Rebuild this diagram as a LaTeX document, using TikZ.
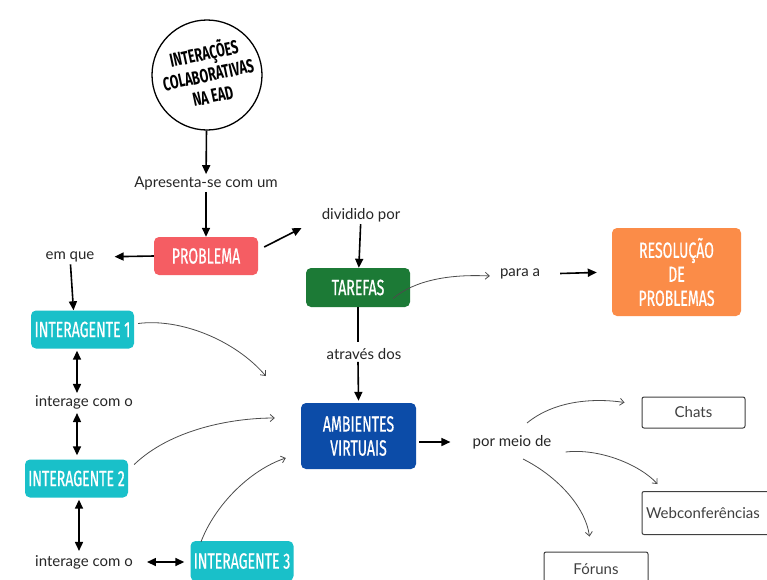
\documentclass[tikz,border=0pt]{standalone}
\usepackage{fontspec}
\setmainfont{Lato}
\newfontfamily\tfont[FakeStretch=0.64,FakeBold=0.6]{Fira Sans}
\newfontfamily\cfont[FakeStretch=0.66]{Fira Sans}
\usetikzlibrary{arrows.meta,calc}
\definecolor{cred}{HTML}{F55D63}
\definecolor{cgreen}{HTML}{1C7A36}
\definecolor{corange}{HTML}{FB8C48}
\definecolor{cteal}{HTML}{19C0C9}
\definecolor{cblue}{HTML}{0C4CA8}
\begin{document}
\begin{tikzpicture}[x=1pt,y=-1pt,
  box/.style={rounded corners=5pt, inner sep=0pt, text=white, align=center,
    font=\tfont\fontsize{22}{24}\selectfont},
  lab/.style={font=\fontsize{15}{17}\selectfont, text=black!85, inner sep=2pt},
  wbox/.style={draw=black!75, line width=1pt, rounded corners=2pt, inner sep=0pt,
    font=\fontsize{15}{17}\selectfont, text=black!75},
  bigarrow/.style={-{Triangle[length=9pt,width=8pt]}, line width=1.6pt},
  dblarrow/.style={{Triangle[length=9pt,width=8pt]}-{Triangle[length=9pt,width=8pt]}, line width=1.6pt},
  thinarrow/.style={-{Straight Barb[length=4pt,width=7pt]}, line width=0.8pt, draw=black!70}
]
\useasboundingbox (0,0) rectangle (767,579);
\fill[white] (0,0) rectangle (767,579);
\clip (0,0) rectangle (767,579);

% title circle
\node[draw, circle, minimum size=110pt, line width=1.3pt] (circ) at (207,75) {};
\node[rotate=12, align=center, font=\cfont\bfseries\fontsize{19}{21.5}\selectfont] (circt) at (208,73)
  {INTERAÇÕES\\COLABORATIVAS\\NA EAD};

% labels
\node[lab] (apr) at (206,183) {Apresenta-se com um};
\node[lab] (emque) at (70,257) {em que};
\node[lab] (divid) at (361,215) {dividido por};
\node[lab] (para) at (520,274) {para a};
\node[lab] (atr) at (364,354) {através dos};
\node[lab] (por) at (512,442) {por meio de};
\node[lab] (ic1) at (84,402) {interage com o};
\node[lab] (ic2) at (84,562) {interage com o};

% coloured boxes
\node[box, fill=cred, minimum width=104pt, minimum height=38pt] (prob) at (206,256) {PROBLEMA};
\node[box, fill=cgreen, minimum width=104pt, minimum height=39pt] (tar) at (358,287.5) {TAREFAS};
\node[box, fill=corange, minimum width=129pt, minimum height=88pt] (res) at (676.5,272) {RESOLUÇÃO\\DE\\PROBLEMAS};
\node[box, fill=cblue, minimum width=115pt, minimum height=66pt] (amb) at (358.5,436) {AMBIENTES\\VIRTUAIS};
\node[box, fill=cteal, minimum width=103pt, minimum height=38pt] (int1) at (82.5,329.5) {INTERAGENTE 1};
\node[box, fill=cteal, minimum width=103pt, minimum height=38pt] (int2) at (76.5,478.5) {INTERAGENTE 2};
\node[box, fill=cteal, minimum width=103pt, minimum height=40pt] (int3) at (242,561) {INTERAGENTE 3};

% white boxes
\node[wbox, minimum width=103pt, minimum height=31pt] (chats) at (693.5,412.5) {Chats};
\node[wbox, minimum width=132pt, minimum height=43pt, text width=124pt, align=left] (web) at (708,513) {Webconferências};
\node[wbox, minimum width=104pt, minimum height=34pt] (foruns) at (596,569) {Fóruns};

% main spine
\draw[bigarrow] (circ) -- (apr);
\draw[bigarrow] (apr) -- (prob);
\draw[bigarrow, shorten >=18pt] (prob.west) -- (emque.east);
\draw[bigarrow] ($(prob.east)+(6,-9)$) -- ($(divid.west)+(-18,13)$);
\draw[bigarrow] (divid) -- (tar);
\draw[line width=1.6pt] (tar.south) -- ($(atr.north)+(-6,-4)$);
\draw[bigarrow] ($(atr.south)+(-6,0)$) -- ($(amb.north)+(0,-2)$);
\draw[thinarrow] ($(tar.center)+(35,11)$) .. controls (415,280) and (450,274) .. ($(para.west)+(-8,2)$);
\draw[bigarrow, shorten <=18pt, shorten >=15pt] (para.east) -- (res.west);
\draw[bigarrow, shorten <=3pt, shorten >=20pt] (amb.east |- por) -- (por.west);

% por meio de
\draw[thinarrow] ($(por.north)+(15,-10)$) .. controls (555,400) and (595,398) .. ($(chats.west)+(-17,-10)$);
\draw[thinarrow] ($(por.east)+(12,10)$) .. controls (600,448) and (640,465) .. ($(web.north west)+(16,-7)$);
\draw[thinarrow] ($(por.south)+(11,8)$) .. controls (555,475) and (585,505) .. ($(foruns.north west)+(46,-15)$);

% left column
\draw[bigarrow] (emque) -- ($(int1.north)+(-9,0)$);
\draw[dblarrow] ($(int1.south)+(-5.5,2)$) -- ($(ic1.north)+(-7,0)$);
\draw[dblarrow] ($(ic1.south)+(-7,2)$) -- ($(int2.north)+(0.5,-4)$);
\draw[dblarrow] ($(int2.south)+(2.5,2)$) -- ($(ic2.north)+(-5,-2)$);
\draw[dblarrow, shorten <=12pt, shorten >=6pt] (ic2.east) -- (int3.west |- ic2);

% interagentes to ambientes
\draw[thinarrow] ($(int1.east)+(4,-6)$) .. controls (180,318) and (235,340) .. ($(amb.west)+(-35,-60)$);
\draw[thinarrow] ($(int2.east)+(6,-14)$) .. controls (170,430) and (230,418) .. ($(amb.west)+(-26,-18)$);
\draw[thinarrow] ($(int3.north)+(-41,1)$) .. controls (215,505) and (250,470) .. ($(amb.west)+(-15,22)$);
\end{tikzpicture}
\end{document}
